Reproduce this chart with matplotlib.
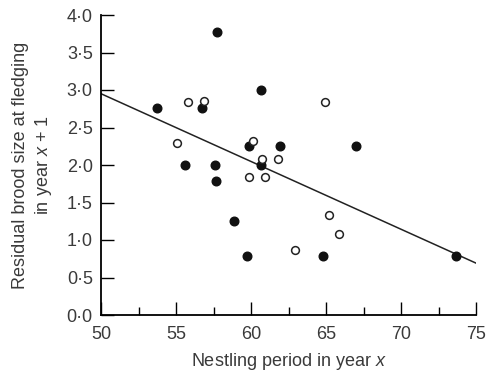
import matplotlib.pyplot as plt
from matplotlib.ticker import MultipleLocator, FuncFormatter

plt.rcParams['font.family'] = ['Liberation Sans', 'DejaVu Sans']
plt.rcParams['mathtext.fontset'] = 'custom'
plt.rcParams['mathtext.it'] = 'Liberation Sans:italic'
plt.rcParams['mathtext.rm'] = 'Liberation Sans'

# filled circles
filled_x = [57.7, 60.65, 53.7, 56.7, 59.87, 61.9, 55.56, 57.56, 60.65,
            57.67, 58.84, 59.74, 66.97, 64.81, 73.68]
filled_y = [3.77, 3.0, 2.76, 2.76, 2.25, 2.26, 2.0, 2.0, 2.0,
            1.79, 1.25, 0.79, 2.25, 0.79, 0.79]

# open circles
open_x = [55.77, 56.83, 55.05, 60.12, 60.73, 61.79, 59.87, 60.89,
          62.94, 64.95, 65.19, 65.85]
open_y = [2.84, 2.86, 2.30, 2.32, 2.08, 2.08, 1.84, 1.84,
          0.87, 2.84, 1.33, 1.08]

# regression line end points
fit_x = [50, 75]
fit_y = [2.95, 0.69]

text_col = '#3a3a3a'
fs = 13

fig = plt.figure(figsize=(4.86, 3.75), dpi=100)
ax = fig.add_axes([0.208, 0.16, 0.772, 0.80])

ax.plot(fit_x, fit_y, color='#222222', lw=1.1, zorder=2)
ax.plot(filled_x, filled_y, 'o', ms=6.2, mfc='#111111', mec='#111111', zorder=3)
ax.plot(open_x, open_y, 'o', ms=5.6, mfc='white', mec='#222222', mew=1.1, zorder=3)

ax.set_xlim(50, 75)
ax.set_ylim(0, 4)
ax.spines['top'].set_visible(False)
ax.spines['right'].set_visible(False)
ax.spines['left'].set_linewidth(1.3)
ax.spines['bottom'].set_linewidth(1.3)

ax.xaxis.set_major_locator(MultipleLocator(5))
ax.xaxis.set_minor_locator(MultipleLocator(2.5))
ax.yaxis.set_major_locator(MultipleLocator(0.5))
ax.yaxis.set_major_formatter(FuncFormatter(lambda v, p: f'{v:.1f}'.replace('.', '\u00b7')))
ax.tick_params(axis='both', which='major', direction='in', length=9.5, width=1,
               labelsize=fs, labelcolor=text_col)
ax.tick_params(axis='y', which='major', pad=6)
ax.tick_params(axis='x', which='major', pad=8)
ax.tick_params(axis='x', which='minor', direction='in', length=6, width=1)

ax.set_xlabel('Nestling period in year $x$', fontsize=fs, color=text_col, labelpad=6)
ax.set_ylabel('Residual brood size at fledging\nin year $x$ + 1', fontsize=fs,
              color=text_col, labelpad=9, linespacing=1.3)

fig.savefig('out.png', dpi=100)
